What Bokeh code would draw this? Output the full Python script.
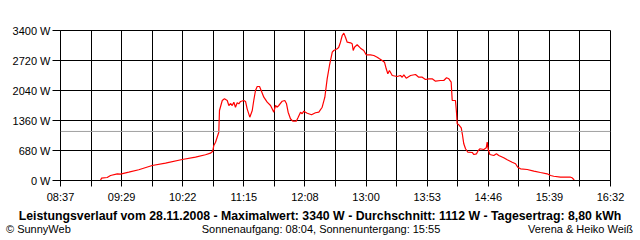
from bokeh.plotting import figure
from bokeh.models import FixedTicker, Span, Range1d, Div
from bokeh.layouts import column
from bokeh.embed import file_html
from bokeh.resources import INLINE

# time in minutes since midnight, power in W
t_min = [551.5,552.4,557.3,560.2,566.0,568.8,576.0,584.6,596.2,607.7,
         622.1,633.6,642.2,646.5,648.5,649.4,650.9,652.3,653.7,654.3,
         656.7,658.6,661.0,662.4,663.8,665.3,666.7,668.1,669.6,671.0,
         672.5,675.3,676.8,678.2,680.5,682.6,683.9,685.4,686.9,688.9,
         690.3,692.6,695.5,698.4,699.8,701.2,702.7,704.2,705.5,708.5,
         710.7,712.2,713.6,715.6,717.6,720.6,722.3,724.3,725.7,727.1,
         730.1,733.8,737.2,740.1,743.0,745.3,747.3,749.3,751.7,753.0,
         756.0,757.3,758.8,760.3,761.7,763.1,764.6,767.5,768.9,769.8,
         770.9,773.2,776.1,778.9,781.0,784.7,787.6,790.5,792.5,794.8,
         796.8,798.3,799.7,801.1,803.5,807.8,810.6,812.1,813.5,815.6,
         819.3,823.6,826.4,829.4,832.2,835.1,838.0,840.9,845.2,848.0,
         850.4,852.4,854.4,855.3,858.1,859.0,859.6,861.0,863.1,864.0,
         865.3,866.8,868.8,872.6,874.0,876.3,877.4,879.1,882.6,884.7,
         885.5,886.4,887.8,891.2,893.5,895.5,899.8,902.8,907.1,910.0,
         911.9,914.3,920.1,925.8,931.5,937.3,940.2,943.0,948.8,957.5,
         958.9,960.3,960.5]
power_w = [0,52,68,113,152,143,188,243,340,392,
           476,528,583,619,664,793,868,981,1095,1587,
           1813,1852,1813,1700,1745,1700,1775,1661,1761,1739,
           1791,1813,1791,1625,1435,1587,1813,2040,2131,2131,
           2040,1888,1775,1700,1625,1548,1700,1661,1700,1797,
           1813,1739,1548,1399,1344,1344,1435,1548,1512,1571,
           1525,1489,1535,1548,1661,1888,2305,2607,2908,2947,
           2985,3021,3135,3287,3340,3248,3135,3121,3099,2947,
           3021,3076,2999,2947,2849,2849,2833,2795,2759,2720,
           2681,2532,2419,2493,2380,2357,2380,2341,2396,2319,
           2380,2403,2341,2341,2289,2305,2305,2251,2267,2267,
           2328,2305,2228,1813,1813,1548,1285,1263,1195,1059,
           832,719,641,635,589,605,664,719,703,741,
           868,703,589,567,605,567,515,469,415,379,
           301,265,249,211,181,152,113,97,75,75,
           61,23,0]

average_w = 1112
x_start, x_end = 517, 992          # 08:37 .. 16:32
y_ticks = [0, 680, 1360, 2040, 2720, 3400]
x_tick_labels = ["08:37", "09:29", "10:22", "11:15", "12:08",
                 "13:00", "13:53", "14:46", "15:39", "16:32"]

title_text = ("Leistungsverlauf vom 28.11.2008 - Maximalwert: 3340 W - "
              "Durchschnitt: 1112 W - Tagesertrag: 8,80 kWh")
left_text = "\u00a9 SunnyWeb"
center_text = "Sonnenaufgang: 08:04, Sonnenuntergang: 15:55"
right_text = "Verena &amp; Heiko Wei\u00df"

FONT = "Liberation Sans"

p = figure(width=640, height=205, output_backend="svg", toolbar_location=None,
           x_range=Range1d(x_start, x_end), y_range=Range1d(0, 3400),
           min_border_left=60, min_border_right=30, min_border_top=30,
           min_border_bottom=25, background_fill_color="white",
           border_fill_color="white")

p.outline_line_color = "black"
p.outline_line_width = 1

n_div = 18
step = (x_end - x_start) / n_div
x_ticks = [x_start + step * k for k in range(n_div + 1)]
overrides = {}
for k, xt in enumerate(x_ticks):
    overrides[xt] = x_tick_labels[k // 2] if k % 2 == 0 else ""

p.xaxis.ticker = FixedTicker(ticks=x_ticks)
p.xaxis.major_label_overrides = overrides
p.yaxis.ticker = FixedTicker(ticks=y_ticks)
p.yaxis.major_label_overrides = {v: f"{v} W" for v in y_ticks}

for ax in (p.xaxis[0], p.yaxis[0]):
    ax.axis_line_color = "black"
    ax.major_tick_line_color = "black"
    ax.minor_tick_line_color = None
    ax.major_tick_in = 0
    ax.major_label_text_font = FONT
    ax.major_label_text_font_size = "11px"
    ax.major_label_text_color = "black"
p.xaxis.major_tick_out = 6
p.xaxis.major_label_standoff = 4
p.yaxis.major_tick_out = 8
p.yaxis.major_label_standoff = 2

p.xgrid.ticker = FixedTicker(ticks=x_ticks)
p.ygrid.ticker = FixedTicker(ticks=y_ticks)
for g in (p.xgrid[0], p.ygrid[0]):
    g.grid_line_color = "black"
    g.grid_line_alpha = 1.0
    g.grid_line_width = 1

p.add_layout(Span(location=average_w, dimension="width",
                  line_color="#a0a0a0", line_width=1))

p.line(t_min, power_w, line_color="#ff0000", line_width=1.2)

# footer with the caption texts
base = f"position:absolute;font-family:'{FONT}';color:black;white-space:nowrap;"
footer_html = (
    f"<div style='position:relative;width:640px;height:35px;'>"
    f"<div style=\"{base}left:0;top:4px;width:640px;text-align:center;"
    f"font-weight:bold;font-size:12.3px;line-height:14px;\">{title_text}</div>"
    f"<div style=\"{base}left:6px;top:18px;font-size:11px;line-height:13px;\">{left_text}</div>"
    f"<div style=\"{base}left:0;top:18px;width:642px;text-align:center;"
    f"font-size:11px;line-height:13px;\">{center_text}</div>"
    f"<div style=\"{base}right:7px;top:18px;font-size:11px;line-height:13px;\">{right_text}</div>"
    f"</div>"
)
footer = Div(text=footer_html, width=640, height=35, margin=(0, 0, 0, 0))

layout = column(p, footer, spacing=0)
open("out.html", "w").write(file_html(layout, INLINE))
